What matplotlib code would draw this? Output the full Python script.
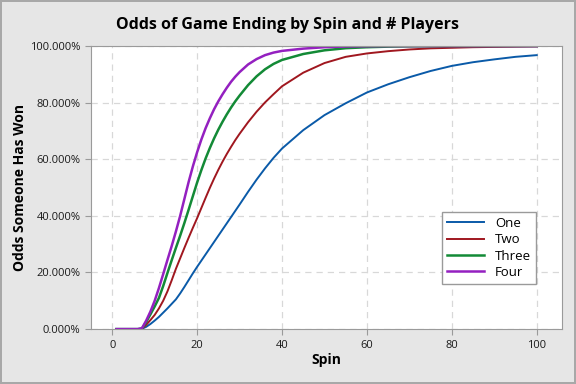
import matplotlib
matplotlib.use("Agg")
import matplotlib.pyplot as plt
from matplotlib.ticker import PercentFormatter

spins = [1, 2, 3, 4, 5, 6, 7, 8, 9, 10, 11, 12, 13, 14, 15, 16, 17, 18, 19, 20,
         21, 22, 23, 24, 25, 26, 27, 28, 29, 30, 32, 34, 36, 38, 40,
         45, 50, 55, 60, 65, 70, 75, 80, 85, 90, 95, 100]

# cumulative odds (%) that someone has won, by number of players
one = [0, 0, 0, 0, 0, 0, 0.1, 0.8, 1.8, 3.0, 4.3, 5.8, 7.3, 8.9, 10.5, 12.6, 14.9, 17.3, 19.7, 22.0,
       24.2, 26.4, 28.6, 30.8, 33.0, 35.2, 37.4, 39.6, 41.8, 44.0, 48.5, 52.8, 56.8, 60.5, 63.8,
       70.3, 75.6, 79.8, 83.6, 86.5, 89.0, 91.2, 93.0, 94.3, 95.3, 96.2, 96.8]
two = [0, 0, 0, 0, 0, 0, 0.1, 1.5, 3.2, 5.0, 7.3, 10.0, 13.3, 17.2, 21.3, 25.0, 28.7, 32.3, 35.8, 39.2,
       42.8, 46.4, 49.9, 53.2, 56.3, 59.2, 61.9, 64.4, 66.8, 69.0, 73.1, 76.8, 80.1, 83.0, 85.8,
       90.6, 94.0, 96.2, 97.4, 98.2, 98.8, 99.2, 99.4, 99.6, 99.7, 99.8, 99.9]
three = [0, 0, 0, 0, 0, 0, 0.2, 2.5, 5.2, 8.0, 11.0, 15.2, 19.8, 24.3, 28.7, 33.0, 37.5, 42.2, 47.0, 51.8,
         56.2, 60.3, 64.0, 67.4, 70.5, 73.3, 75.9, 78.3, 80.5, 82.5, 86.2, 89.3, 91.8, 93.7, 95.1,
         97.2, 98.5, 99.25, 99.6, 99.8, 99.9, 99.95, 100, 100, 100, 100, 100]
four = [0, 0, 0, 0, 0, 0, 0.3, 3.0, 6.2, 10.0, 14.5, 19.4, 24.4, 29.3, 34.5, 40.0, 46.0, 52.0, 57.5, 62.5,
        67.0, 71.0, 74.5, 77.7, 80.5, 83.0, 85.3, 87.4, 89.2, 90.8, 93.5, 95.4, 96.8, 97.7, 98.3,
        99.1, 99.6, 99.85, 99.95, 100, 100, 100, 100, 100, 100, 100, 100]

series = [("One", one, "#0a5aa8", 1.4),
          ("Two", two, "#a0171f", 1.4),
          ("Three", three, "#138a36", 1.8),
          ("Four", four, "#9420c0", 1.8)]

plt.rcParams["font.family"] = ["Open Sans", "DejaVu Sans"]

fig = plt.figure(figsize=(5.76, 3.84), dpi=100)
fig.patch.set_facecolor("#e6e6e6")
fig.patch.set_edgecolor("#a8a8a8")
fig.patch.set_linewidth(1.5)
ax = fig.add_axes([0.158, 0.143, 0.818, 0.737])

for name, vals, color, lw in series:
    ax.plot(spins, vals, color=color, lw=lw, label=name)

ax.set_xlim(-5, 106)
ax.set_ylim(0, 100)
ax.set_xticks([0, 20, 40, 60, 80, 100])
ax.set_yticks([0, 20, 40, 60, 80, 100])
ax.yaxis.set_major_formatter(PercentFormatter(decimals=3))
ax.grid(True, color="#d8d8d8", ls=(0, (5, 4)), lw=0.9)
ax.set_axisbelow(True)

for s in ax.spines.values():
    s.set_color("#9a9a9a")
ax.tick_params(colors="#9a9a9a", labelcolor="#1a1a1a", labelsize=8, length=4, direction="out")

fig.text(0.5, 0.935, "Odds of Game Ending by Spin and # Players", fontsize=11.5,
         fontweight="bold", ha="center", va="center")
ax.set_xlabel("Spin", fontsize=10, fontweight="bold", labelpad=2)
ax.set_ylabel("Odds Someone Has Won", fontsize=10, fontweight="bold", labelpad=2)

leg = ax.legend(loc="lower right", bbox_to_anchor=(0.945, 0.159), borderaxespad=0,
                fancybox=False, edgecolor="#9a9a9a", fontsize=9.5, handlelength=2.8,
                labelspacing=0.25, framealpha=1)
leg.get_frame().set_linewidth(1.0)

fig.savefig("out.png", dpi=100, facecolor=fig.get_facecolor(), edgecolor=fig.get_edgecolor())
